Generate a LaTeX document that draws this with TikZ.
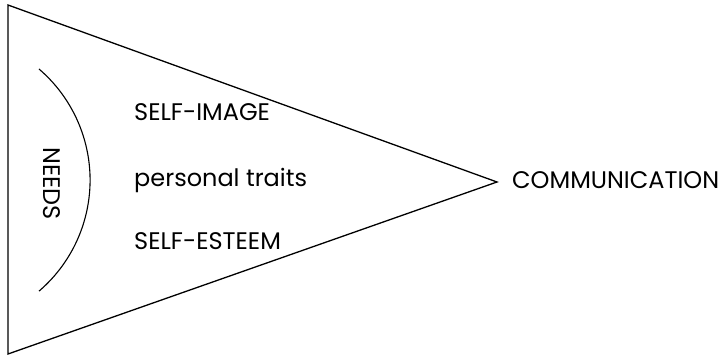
\documentclass[tikz,border=0pt]{standalone}
\usepackage{fontspec}
\setmainfont{Poppins}
\begin{document}
\begin{tikzpicture}[x=1pt,y=-1pt,
  edge/.style={line width=1.3pt, line join=miter},
  lbl/.style={inner sep=0pt, anchor=base west, font=\fontsize{24}{24}\selectfont}]
\useasboundingbox (0,0) rectangle (726,355);
% funnel outline
\coordinate (tl) at (8,5);
\coordinate (bl) at (8,354);
\coordinate (tip) at (497,182);
\draw[edge] (tl) -- (tip) -- (bl) -- cycle;
% curved bracket around the needs label
\coordinate (arcTop) at (39,69);
\draw[line width=1.1pt] (arcTop) arc[start angle=49.4, end angle=-49.4, radius=146.3pt];
% labels
\node[lbl, rotate=-90] (needs) at (43,147) {NEEDS};
\node[lbl] (image) at (134,121) {SELF-IMAGE};
\node[lbl] (traits) at (134,187) {personal traits};
\node[lbl] (esteem) at (134,250) {SELF-ESTEEM};
\node[lbl] (comm) at (512,189) {COMMUNICATION};
\end{tikzpicture}
\end{document}
